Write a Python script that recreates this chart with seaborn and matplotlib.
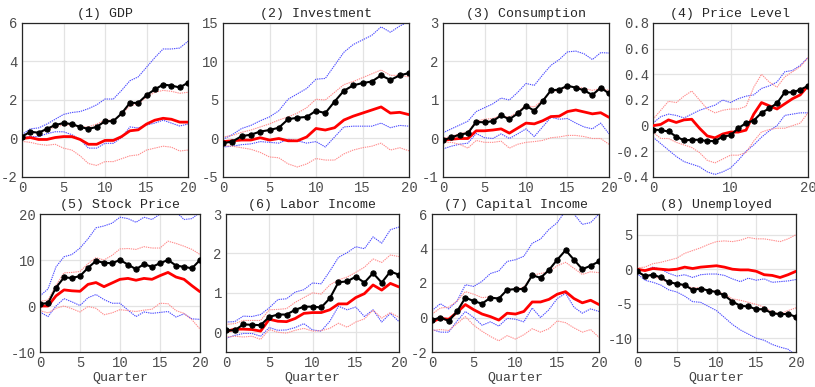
import numpy as np
import pandas as pd
import matplotlib
matplotlib.use("Agg")
import matplotlib.pyplot as plt
import seaborn as sns

quarters = list(range(21))

titles = ["(1) GDP", "(2) Investment", "(3) Consumption", "(4) Price Level",
          "(5) Stock Price", "(6) Labor Income", "(7) Capital Income", "(8) Unemployed"]

# Panel 1: GDP
gdp_black = [0.1, 0.35, 0.3, 0.5, 0.7, 0.8, 0.75, 0.6, 0.5, 0.6, 0.9, 0.9, 1.3, 1.85, 1.85, 2.25, 2.55, 2.8, 2.75, 2.65, 2.9]
gdp_red = [0.0, 0.05, -0.05, -0.05, 0.05, 0.1, 0.1, -0.05, -0.3, -0.3, -0.1, -0.1, 0.1, 0.4, 0.45, 0.75, 0.95, 1.05, 1.0, 0.85, 0.85]
gdp_red_up = [0.1, 0.3, 0.3, 0.45, 0.6, 0.7, 0.7, 0.6, 0.6, 0.75, 0.95, 0.95, 1.25, 1.7, 1.8, 2.15, 2.4, 2.5, 2.45, 2.35, 2.4]
gdp_red_lo = [-0.15, -0.2, -0.3, -0.35, -0.3, -0.5, -0.6, -0.9, -1.3, -1.4, -1.2, -1.2, -1.05, -0.9, -0.85, -0.6, -0.5, -0.4, -0.45, -0.65, -0.6]
gdp_blue_up = [0.2, 0.5, 0.55, 0.75, 1.0, 1.25, 1.35, 1.4, 1.55, 1.75, 2.05, 2.05, 2.5, 3.0, 3.2, 3.7, 4.2, 4.65, 4.65, 4.7, 5.05]
gdp_blue_lo = [0.05, 0.1, 0.1, 0.25, 0.35, 0.35, 0.2, -0.05, -0.5, -0.5, -0.25, -0.25, 0.05, 0.6, 0.55, 0.7, 0.8, 0.95, 0.8, 0.65, 0.75]

# Panel 2: Investment
inv_black = [-0.6, -0.4, 0.3, 0.5, 0.9, 1.1, 1.4, 2.5, 2.7, 2.8, 3.6, 3.3, 4.8, 6.2, 6.9, 7.2, 7.4, 8.2, 7.6, 8.2, 8.5]
inv_red = [-0.4, -0.3, -0.2, -0.2, 0.1, -0.2, 0.0, -0.3, -0.3, 0.2, 1.3, 1.1, 1.4, 2.4, 2.9, 3.3, 3.7, 4.1, 3.3, 3.4, 3.1]
inv_red_up = [0.2, 0.4, 0.8, 1.1, 1.5, 1.9, 2.4, 2.8, 3.3, 4.0, 5.1, 5.0, 6.0, 7.0, 7.4, 7.9, 8.4, 8.9, 8.2, 8.2, 8.0]
inv_red_lo = [-0.9, -1.0, -1.2, -1.4, -1.8, -2.4, -2.5, -3.3, -3.7, -3.3, -2.6, -2.8, -2.8, -2.0, -1.5, -1.2, -1.0, -0.6, -1.5, -1.2, -1.6]
inv_blue_up = [-0.1, 0.5, 1.3, 1.7, 2.3, 2.8, 3.6, 5.1, 5.8, 6.5, 7.7, 7.8, 9.5, 11.2, 12.2, 12.8, 13.4, 14.5, 13.8, 14.6, 15.2]
inv_blue_lo = [-1.1, -1.0, -0.8, -0.7, -0.4, -0.5, -0.6, -0.1, -0.3, -0.6, -0.4, -1.1, 0.2, 1.5, 1.6, 1.6, 1.6, 2.0, 1.4, 1.7, 1.6]

# Panel 3: Consumption
con_black = [-0.05, 0.03, 0.1, 0.14, 0.43, 0.42, 0.45, 0.6, 0.5, 0.65, 0.85, 0.72, 0.97, 1.25, 1.27, 1.37, 1.32, 1.25, 1.13, 1.32, 1.17]
con_red = [-0.05, -0.02, 0.0, 0.0, 0.2, 0.2, 0.22, 0.25, 0.14, 0.27, 0.4, 0.38, 0.46, 0.57, 0.58, 0.7, 0.74, 0.69, 0.64, 0.67, 0.55]
con_red_up = [0.0, 0.06, 0.12, 0.18, 0.45, 0.5, 0.52, 0.6, 0.55, 0.7, 0.85, 0.82, 1.0, 1.22, 1.25, 1.35, 1.35, 1.3, 1.25, 1.3, 1.25]
con_red_lo = [-0.1, -0.1, -0.15, -0.25, -0.05, -0.1, -0.1, -0.07, -0.25, -0.15, -0.1, -0.08, -0.05, 0.02, 0.04, 0.08, 0.08, 0.05, 0.0, 0.0, -0.15]
con_blue_up = [0.15, 0.25, 0.35, 0.45, 0.7, 0.8, 0.9, 1.05, 1.0, 1.2, 1.43, 1.38, 1.65, 1.9, 2.05, 2.25, 2.27, 2.2, 2.05, 2.23, 2.22]
con_blue_lo = [-0.27, -0.2, -0.15, -0.12, 0.13, 0.02, 0.0, 0.12, 0.0, 0.12, 0.25, 0.05, 0.3, 0.55, 0.5, 0.52, 0.4, 0.3, 0.25, 0.4, 0.12]

# Panel 4: Price Level
prc_black = [-0.03, -0.035, -0.045, -0.085, -0.115, -0.11, -0.11, -0.12, -0.12, -0.085, -0.075, -0.02, 0.02, 0.04, 0.1, 0.135, 0.175, 0.26, 0.26, 0.28, 0.31]
prc_red = [0.0, 0.01, 0.045, 0.025, 0.045, 0.05, -0.02, -0.08, -0.095, -0.065, -0.05, -0.05, -0.035, 0.09, 0.18, 0.155, 0.13, 0.17, 0.21, 0.24, 0.31]
prc_red_up = [0.05, 0.12, 0.19, 0.18, 0.23, 0.27, 0.2, 0.13, 0.1, 0.12, 0.13, 0.13, 0.15, 0.3, 0.4, 0.34, 0.3, 0.38, 0.42, 0.46, 0.53]
prc_red_lo = [-0.05, -0.1, -0.1, -0.13, -0.15, -0.17, -0.21, -0.27, -0.29, -0.26, -0.23, -0.23, -0.21, -0.12, -0.05, -0.03, -0.02, -0.02, 0.0, 0.02, 0.1]
prc_blue_up = [0.02, 0.07, 0.09, 0.08, 0.06, 0.09, 0.12, 0.14, 0.16, 0.2, 0.18, 0.21, 0.23, 0.24, 0.29, 0.31, 0.34, 0.42, 0.43, 0.47, 0.53]
prc_blue_lo = [-0.09, -0.14, -0.19, -0.24, -0.28, -0.3, -0.32, -0.36, -0.38, -0.36, -0.33, -0.27, -0.2, -0.15, -0.09, -0.04, 0.0, 0.08, 0.09, 0.1, 0.1]

# Panel 5: Stock Price
stk_black = [0.5, 0.6, 4.0, 6.2, 6.1, 6.5, 8.3, 9.8, 9.4, 9.3, 10.0, 9.0, 8.0, 9.1, 8.5, 9.3, 10.0, 8.8, 8.5, 8.2, 10.0]
stk_red = [0.0, 0.0, 2.2, 3.5, 3.3, 3.2, 4.7, 5.1, 4.2, 5.0, 5.8, 6.0, 5.6, 6.0, 5.8, 6.6, 7.3, 6.3, 5.8, 4.4, 3.1]
stk_red_up = [1.0, 1.3, 4.5, 7.2, 7.3, 7.5, 9.2, 10.5, 10.0, 11.0, 12.4, 12.5, 12.3, 12.9, 12.6, 12.6, 14.1, 13.6, 13.0, 12.3, 11.2]
stk_red_lo = [-1.0, -1.5, -0.5, 0.0, -0.6, -1.3, -0.1, -0.5, -1.9, -1.5, -0.8, -1.0, -1.2, -0.9, -0.7, 0.6, 0.5, -1.0, -1.6, -3.0, -5.0]
stk_blue_up = [2.2, 3.7, 8.5, 10.7, 11.2, 12.6, 14.6, 17.0, 17.4, 18.0, 19.3, 19.0, 18.2, 19.3, 18.8, 20.0, 21.0, 20.5, 18.8, 19.0, 20.4]
stk_blue_lo = [-1.3, -2.3, 0.0, 1.6, 0.9, 0.1, 1.8, 2.5, 1.4, 0.6, 0.6, -0.9, -2.3, -1.3, -1.6, -1.4, -1.2, -2.4, -1.7, -2.8, -2.9]

# Panel 6: Labor Income
lab_black = [0.05, 0.05, 0.2, 0.19, 0.18, 0.39, 0.45, 0.45, 0.57, 0.65, 0.65, 0.63, 0.86, 1.27, 1.29, 1.41, 1.26, 1.5, 1.26, 1.54, 1.46]
lab_red = [0.02, 0.08, 0.08, 0.07, 0.03, 0.33, 0.28, 0.27, 0.35, 0.48, 0.5, 0.5, 0.57, 0.72, 0.72, 0.88, 0.98, 1.2, 1.07, 1.24, 1.15]
lab_red_up = [0.2, 0.22, 0.3, 0.3, 0.3, 0.57, 0.58, 0.6, 0.76, 0.88, 1.0, 0.97, 1.2, 1.33, 1.4, 1.52, 1.65, 1.86, 1.77, 1.96, 1.92]
lab_red_lo = [-0.12, -0.1, -0.12, -0.1, -0.18, 0.07, 0.0, -0.02, 0.05, 0.1, 0.03, 0.04, 0.1, 0.23, 0.13, 0.26, 0.34, 0.56, 0.36, 0.5, 0.38]
lab_blue_up = [0.26, 0.27, 0.41, 0.4, 0.45, 0.62, 0.83, 0.85, 1.02, 1.08, 1.25, 1.23, 1.55, 1.9, 2.02, 2.17, 2.12, 2.42, 2.26, 2.6, 2.67]
lab_blue_lo = [-0.15, -0.08, -0.03, -0.03, -0.1, 0.12, 0.05, 0.06, 0.12, 0.22, 0.06, 0.03, 0.28, 0.66, 0.57, 0.64, 0.4, 0.57, 0.26, 0.48, 0.27]

# Panel 7: Capital Income
cap_black = [-0.15, 0.0, -0.2, 0.35, 1.15, 0.95, 0.8, 1.15, 1.1, 1.6, 1.65, 1.65, 2.45, 2.3, 2.75, 3.35, 3.9, 3.35, 2.8, 3.0, 3.25]
cap_red = [-0.25, -0.05, -0.1, 0.3, 0.75, 0.45, 0.2, 0.05, -0.15, 0.25, 0.2, 0.35, 0.9, 0.9, 1.05, 1.35, 1.5, 1.1, 0.85, 1.0, 0.75]
cap_red_up = [0.2, 0.55, 0.6, 0.95, 1.5, 1.35, 1.15, 1.2, 1.1, 1.6, 1.65, 1.75, 2.45, 2.55, 2.65, 3.0, 3.2, 2.85, 2.5, 2.65, 2.6]
cap_red_lo = [-0.75, -0.7, -0.75, -0.35, 0.05, -0.45, -0.8, -1.1, -1.35, -1.05, -1.25, -1.0, -0.65, -0.85, -0.65, -0.2, -0.3, -0.6, -0.85, -0.7, -1.15]
cap_blue_up = [0.4, 0.8, 0.5, 0.95, 1.9, 1.8, 2.1, 2.55, 2.7, 3.25, 3.35, 3.55, 4.3, 4.55, 5.1, 5.5, 6.2, 6.0, 5.4, 5.5, 6.0]
cap_blue_lo = [-0.7, -0.85, -0.85, -0.2, 0.35, 0.0, -0.45, -0.25, -0.5, -0.05, -0.1, -0.25, 0.55, 0.0, 0.45, 1.1, 1.4, 0.6, 0.25, 0.5, 0.35]

# Panel 8: Unemployed
une_black = [-0.3, -1.0, -0.8, -1.2, -1.9, -2.1, -2.3, -3.0, -2.8, -3.1, -3.3, -3.8, -4.7, -5.3, -5.4, -5.8, -5.8, -6.4, -6.5, -6.5, -6.9]
une_red = [0.0, -0.2, 0.1, 0.0, -0.1, 0.0, 0.3, 0.1, 0.3, 0.4, 0.5, 0.3, 0.0, -0.1, -0.1, -0.3, -0.8, -0.9, -1.2, -0.8, -0.3]
une_red_up = [0.2, 0.3, 0.8, 1.0, 1.3, 1.6, 2.3, 2.7, 3.1, 3.6, 4.0, 4.1, 4.0, 4.2, 4.6, 4.4, 4.4, 4.2, 4.0, 4.4, 5.0]
une_red_lo = [-0.4, -0.9, -1.0, -1.5, -1.9, -2.1, -2.4, -2.7, -2.7, -3.1, -3.2, -3.6, -4.3, -4.5, -4.8, -5.1, -5.5, -6.2, -6.5, -6.0, -5.6]
une_blue_up = [0.0, -0.2, 0.3, 0.0, -0.6, -1.0, -0.8, -1.2, -0.8, -0.7, -0.7, -0.9, -1.4, -1.8, -1.3, -1.6, -1.4, -1.9, -1.8, -1.7, -1.5]
une_blue_lo = [-0.6, -1.6, -1.9, -2.3, -3.0, -3.3, -3.9, -4.7, -4.8, -5.4, -6.0, -7.0, -8.0, -8.8, -9.4, -10.0, -10.3, -10.9, -11.3, -11.6, -12.5]

panels = [
    (gdp_black, gdp_red, gdp_red_up, gdp_red_lo, gdp_blue_up, gdp_blue_lo),
    (inv_black, inv_red, inv_red_up, inv_red_lo, inv_blue_up, inv_blue_lo),
    (con_black, con_red, con_red_up, con_red_lo, con_blue_up, con_blue_lo),
    (prc_black, prc_red, prc_red_up, prc_red_lo, prc_blue_up, prc_blue_lo),
    (stk_black, stk_red, stk_red_up, stk_red_lo, stk_blue_up, stk_blue_lo),
    (lab_black, lab_red, lab_red_up, lab_red_lo, lab_blue_up, lab_blue_lo),
    (cap_black, cap_red, cap_red_up, cap_red_lo, cap_blue_up, cap_blue_lo),
    (une_black, une_red, une_red_up, une_red_lo, une_blue_up, une_blue_lo),
]

ylims = [(-2, 6), (-5, 15), (-1, 3), (-0.4, 0.8), (-10, 20), (-0.5, 3), (-2, 6), (-12, 8)]
yticks = [[-2, 0, 2, 4, 6], [-5, 0, 5, 10, 15], [-1, 0, 1, 2, 3],
          [-0.4, -0.2, 0, 0.2, 0.4, 0.6, 0.8], [-10, 0, 10, 20], [0, 1, 2, 3],
          [-2, 0, 2, 4, 6], [-10, -5, 0, 5]]
ytick_labels = [["-2", "0", "2", "4", "6"], ["-5", "0", "5", "10", "15"], ["-1", "0", "1", "2", "3"],
                ["-0.4", "-0.2", "0", "0.2", "0.4", "0.6", "0.8"], ["-10", "0", "10", "20"],
                ["0", "1", "2", "3"], ["-2", "0", "2", "4", "6"], ["-10", "-5", "0", "5"]]

sns.set_theme(style="white")
plt.rcParams["font.family"] = ["Liberation Mono", "DejaVu Sans"]
plt.rcParams["axes.unicode_minus"] = False

W, H = 815, 387
fig = plt.figure(figsize=(W / 100, H / 100), dpi=100)

# pixel boxes (left, right, top, bottom)
boxes = [(22, 188, 23, 177), (223, 409, 23, 177), (443, 609, 23, 177), (653, 808, 23, 177),
         (40, 200, 214, 352), (226, 399, 214, 352), (432, 599, 214, 352), (637, 796, 214, 352)]

tick_color = "#4d4d4d"
for i, (pan, (l, r, t, b)) in enumerate(zip(panels, boxes)):
    ax = fig.add_axes([l / W, 1 - b / H, (r - l) / W, (b - t) / H])
    black, red, red_up, red_lo, blue_up, blue_lo = pan
    df = pd.DataFrame({"q": quarters, "black": black, "red": red, "red_up": red_up,
                       "red_lo": red_lo, "blue_up": blue_up, "blue_lo": blue_lo})
    for col in ["blue_up", "blue_lo"]:
        sns.lineplot(data=df, x="q", y=col, ax=ax, color="#4d4dff", lw=0.8,
                     linestyle=(0, (1.2, 0.8)), zorder=2)
    for col in ["red_up", "red_lo"]:
        sns.lineplot(data=df, x="q", y=col, ax=ax, color="#ff8c8c", lw=0.8,
                     linestyle=(0, (1.2, 0.8)), zorder=2)
    sns.lineplot(data=df, x="q", y="red", ax=ax, color="#ff0000", lw=2.0, zorder=3)
    sns.lineplot(data=df, x="q", y="black", ax=ax, color="black", lw=1.5,
                 marker="o", markersize=3.8, markeredgecolor="black", zorder=4)
    ax.set_xlim(0, 20)
    ax.set_ylim(*ylims[i])
    if i == 3:
        ax.set_xticks([0, 10, 20])
    else:
        ax.set_xticks([0, 5, 10, 15, 20])
    ax.set_yticks(yticks[i])
    ax.set_yticklabels(ytick_labels[i])
    ax.grid(True, color="#e3e3e3", lw=0.9)
    ax.set_axisbelow(True)
    for s in ax.spines.values():
        s.set_color("#262626")
        s.set_linewidth(0.9)
    ax.tick_params(direction="in", length=3, width=0.6, labelsize=10,
                   colors="#262626", labelcolor=tick_color, pad=3)
    ax.set_title(titles[i], fontsize=9.5, color="#262626", pad=4)
    ax.set_ylabel("")
    if i >= 4:
        ax.set_xlabel("Quarter", fontsize=9.5, color="#404040", labelpad=1)
    else:
        ax.set_xlabel("")

fig.savefig("out.png", dpi=100)
